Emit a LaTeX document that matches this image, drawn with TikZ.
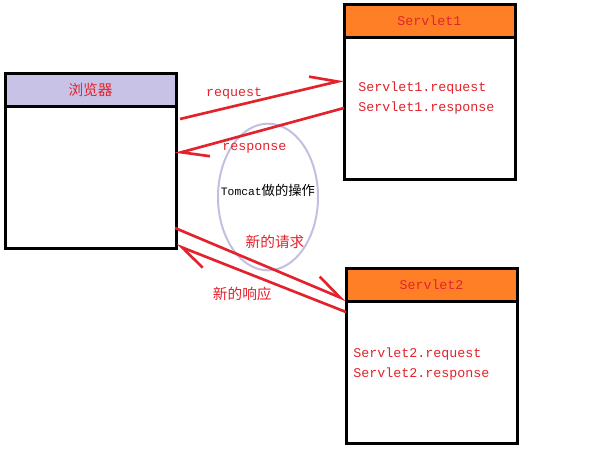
\documentclass[tikz,border=0pt]{standalone}
\usepackage{fontspec}
\setmonofont{Liberation Mono}
\newfontfamily\cjk{Noto Sans CJK SC}
\usepackage{tikz}
\usetikzlibrary{shapes.geometric,positioning,arrows.meta}
\definecolor{lilac}{HTML}{C8C2E6}
\definecolor{tangerine}{HTML}{FF7F27}
\definecolor{inkred}{HTML}{E3232C}
\definecolor{ovalline}{HTML}{C3BFE1}
\tikzset{
  box/.style = {draw=black, line width=2.25pt, outer sep=0pt, fill=white, minimum width=128.25pt, minimum height=106.5pt},
  head/.style = {box, minimum height=24.75pt, inner sep=0pt, text=inkred, font=\ttfamily\fontsize{10}{12}\selectfont},
  body/.style = {align=left, text=inkred, inner sep=0pt, font=\ttfamily\fontsize{10}{15}\selectfont},
  lbl/.style = {text=inkred, inner sep=1pt, font=\ttfamily\fontsize{10}{12}\selectfont},
  cjklbl/.style = {lbl, font=\cjk\fontsize{11}{13}\selectfont},
  flow/.style = {draw=inkred, line width=2pt, -{Straight Barb[left, length=20pt, width=17pt]}},
  oval/.style = {draw=ovalline, line width=1.5pt, ellipse, minimum width=75pt, minimum height=110pt, inner sep=0pt},
}

\begin{document}
\begin{tikzpicture}[x=0.75pt, y=-0.75pt]
\useasboundingbox (0,0) rectangle (614,451);
% browser and the two servlets
\node [box] (browser) at (90.5,177) {};
\node [head, fill=lilac, above=0pt of browser, font=\cjk\fontsize{11}{13}\selectfont] (browserhead) {浏览器};
\node [box] (servlet1) at (429.5,108) {};
\node [head, fill=tangerine, above=0pt of servlet1] (servlet1head) {Servlet1};
\node [box] (servlet2) at (431.5,372) {};
\node [head, fill=tangerine, above=0pt of servlet2] (servlet2head) {Servlet2};
\node [body, anchor=west] (servlet1text) at (358,98) {Servlet1.request\\Servlet1.response};
\node [body, anchor=west] (servlet2text) at (353,364) {Servlet2.request\\Servlet2.response};
% what tomcat does
\node [oval] (tomcat) at (268,197) {};
\node [inner sep=0pt, font=\ttfamily\fontsize{8.5}{10}\selectfont] (tomcattext) at (268,190) {Tomcat{\cjk\fontsize{10}{12}\selectfont 做的操作}};
\draw [flow] ([shift={(4,-58)}]browser.east) -- node[lbl, pos=.33, above=3pt] {request} ([shift={(0,-28)}]servlet1.west);
\draw [flow] (servlet1.west) -- node[lbl, pos=.53, below=6pt] {response} ([shift={(-1,-23)}]browser.east);
\draw [flow] ([shift={(-1,51)}]browser.east) -- node[cjklbl, pos=.585, above=14pt] {新的请求} ([shift={(0,-72)}]servlet2.west);
\draw [flow] ([shift={(0,-60)}]servlet2.west) -- node[cjklbl, pos=.61, below=10pt] {新的响应} ([shift={(0,68)}]browser.east);
\end{tikzpicture}
\end{document}
